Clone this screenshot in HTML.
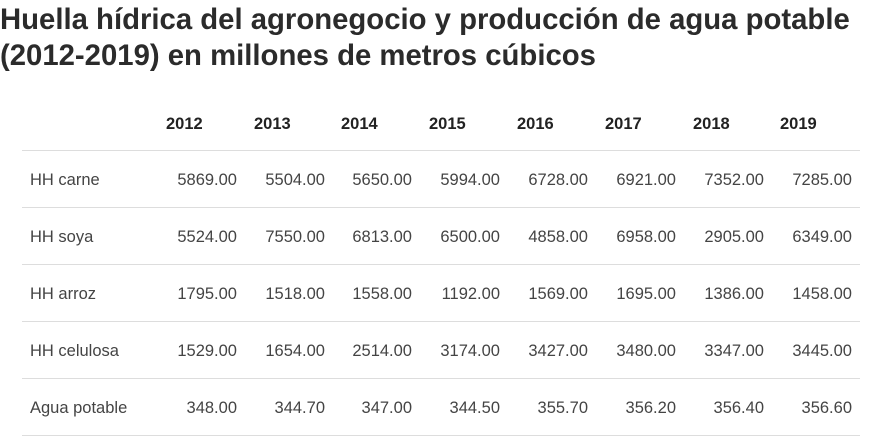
<!DOCTYPE html>
<html><head><meta charset="utf-8"><style>
body{margin:0;width:886px;height:438px;background:#fff;font-family:"Liberation Sans",sans-serif;overflow:hidden;position:relative}
.t{position:absolute;left:0;top:2px;font-size:29.3px;font-weight:bold;color:#2b2b2b;line-height:36px;letter-spacing:0}
.h{position:absolute;top:115px;font-size:16.5px;font-weight:bold;color:#222}
.l{position:absolute;left:22px;width:838px;height:1px;background:#ddd}
.c{position:absolute;font-size:16.5px;color:#444;text-align:right;width:88px}
.n{position:absolute;left:30px;font-size:16.5px;color:#444}
</style></head><body>
<div class="t">Huella hídrica del agronegocio y producción de agua potable<br>(2012-2019) en millones de metros cúbicos</div>
<div id="g"></div>
<script>
var yrs=[2012,2013,2014,2015,2016,2017,2018,2019];
var hl=[166,254,341,429,517,605,693,780];
var rows=[["HH carne",["5869.00","5504.00","5650.00","5994.00","6728.00","6921.00","7352.00","7285.00"]],
["HH soya",["5524.00","7550.00","6813.00","6500.00","4858.00","6958.00","2905.00","6349.00"]],
["HH arroz",["1795.00","1518.00","1558.00","1192.00","1569.00","1695.00","1386.00","1458.00"]],
["HH celulosa",["1529.00","1654.00","2514.00","3174.00","3427.00","3480.00","3347.00","3445.00"]],
["Agua potable",["348.00","344.70","347.00","344.50","355.70","356.20","356.40","356.60"]]];
var ends=[237,325,412,500,588,676,764,852];
var h="";
yrs.forEach(function(y,i){h+='<div class="h" style="left:'+hl[i]+'px">'+y+'</div>';});
var lines=[150,207,264,321,378,435];
lines.forEach(function(y){h+='<div class="l" style="top:'+y+'px"></div>';});
rows.forEach(function(r,j){var top=171+j*57;
h+='<div class="n" style="top:'+top+'px">'+r[0]+'</div>';
r[1].forEach(function(v,i){h+='<div class="c" style="top:'+top+'px;left:'+(ends[i]-88)+'px">'+v+'</div>';});});
document.getElementById("g").innerHTML=h;
</script>
</body></html>
